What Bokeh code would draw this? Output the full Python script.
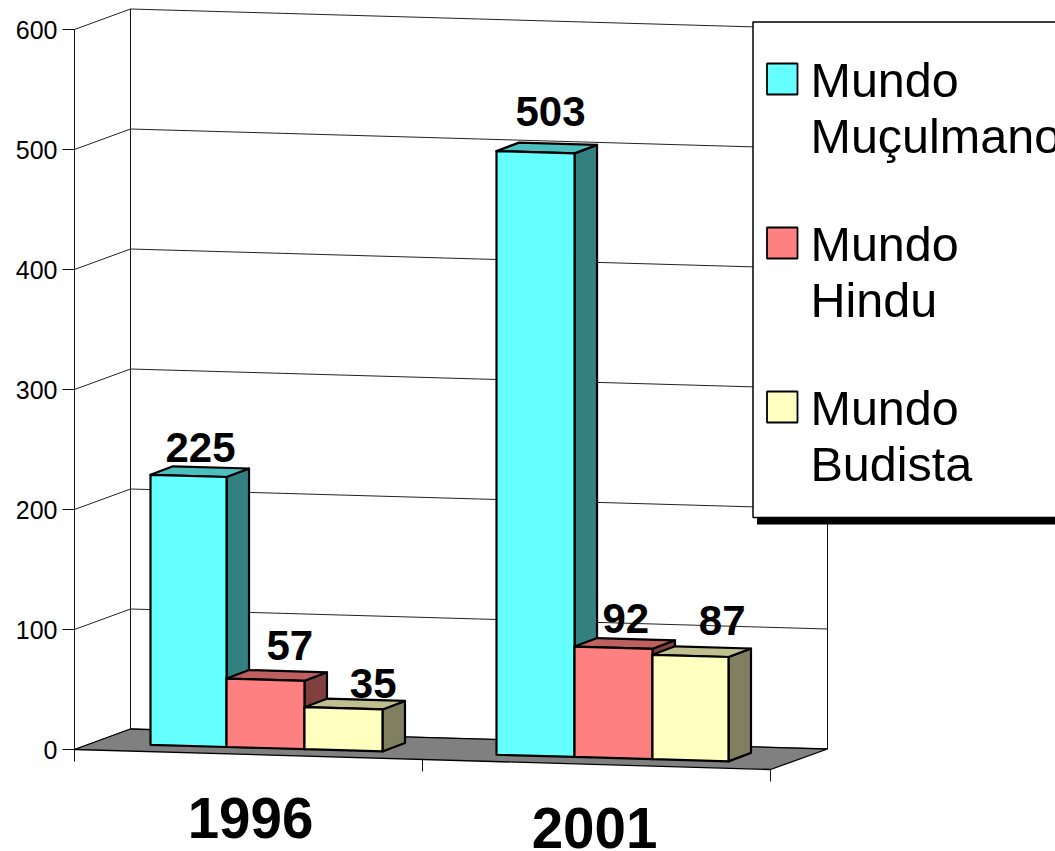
from bokeh.plotting import figure
from bokeh.models import Range1d, FixedTicker
from bokeh.core.properties import value
from bokeh.embed import file_html
from bokeh.resources import INLINE

# ---- data ----
categories = ["1996", "2001"]
series_names = ["Mundo\nMuçulmano", "Mundo\nHindu", "Mundo\nBudista"]
muculmano = [225, 503]
hindu = [57, 92]
budista = [35, 87]
y_ticks = [0, 100, 200, 300, 400, 500, 600]

# ---- styles ----
front_cols = ["#66FFFF", "#FF8080", "#FFFFC0"]
top_cols = ["#4DBFBF", "#BF6060", "#BFBF90"]
side_cols = ["#338080", "#804040", "#808060"]
FONT = value("Liberation Sans")
BASE_FIX = 0.36       # text sits this many em lower than asked in the svg backend

# ---- oblique 3D layout (screen pixels) ----
UNIT = 1.2            # px per value unit
FLOOR_Y = 749.0       # screen y of value 0 at the front-left corner
AX_X = 74.0
WALL_W = (696.0, 20.0)
WALL_D = (56.0, -20.5)
BAR_X0, BAR_Y0, CAT_PITCH, BAR_W = 150.0, 744.3, 346.0, 77.33
EDGE_NUDGE = [[0, -1.3, -0.7, 0], [0, 0.7, 1.3, 0]]
SLOPE = 0.0287
DEPTH = (22.5, -8.5)


def vy(py, v=0.0):
    """screen y plus a value height, expressed on the value scale"""
    return (FLOOR_Y - py) / UNIT + v


p = figure(width=1055, height=851, output_backend="svg", toolbar_location=None,
           x_range=Range1d(0, 1055), y_range=Range1d(vy(851), vy(0)),
           min_border=0, outline_line_color=None, background_fill_color="white")
p.grid.visible = False
p.xaxis.visible = False
ya = p.yaxis[0]
ya.fixed_location = AX_X
ya.bounds = (0, 600)
ya.ticker = FixedTicker(ticks=y_ticks)
ya.major_tick_out = 12
ya.major_tick_in = 0
ya.minor_tick_line_color = None
ya.major_tick_line_color = "#111111"
ya.axis_line_color = "#111111"
ya.major_label_standoff = 5
ya.major_label_text_font = "Liberation Sans"
ya.major_label_text_font_size = "25px"
ya.major_label_text_color = "black"

# walls
bx, by = AX_X + WALL_D[0], FLOOR_Y + WALL_D[1]
rx, ry = bx + WALL_W[0] + 1, by + WALL_W[1]
xs0, ys0, xs1, ys1 = [], [], [], []
for t in y_ticks:
    xs0 += [AX_X, bx]
    ys0 += [vy(FLOOR_Y, t), vy(by, t)]
    xs1 += [bx, rx]
    ys1 += [vy(by, t), vy(ry, t)]
p.segment(xs0, ys0, xs1, ys1, line_color="#222222", line_width=1)
top = max(y_ticks)
p.segment([bx, rx], [vy(by), vy(ry)], [bx, rx], [vy(by, top), vy(ry, top)],
          line_color="#111111", line_width=1)

# floor
fx = [AX_X, bx, rx, AX_X + WALL_W[0]]
fy = [FLOOR_Y, by, ry, FLOOR_Y + WALL_W[1]]
p.patch(fx, [vy(y) for y in fy], fill_color="#808080", line_color="black", line_width=1.3)

# category ticks
tx = [AX_X + k * WALL_W[0] / 2 for k in range(3)]
tyy = [FLOOR_Y + k * WALL_W[1] / 2 for k in range(3)]
p.segment(tx, [vy(y) for y in tyy], tx, [vy(y + 12) for y in tyy],
          line_color="#111111", line_width=1)

# bars
all_series = [muculmano, hindu, budista]
label_offsets = [  # (dx from bar left, baseline above top of bar's front-left)
    [(50, 12), (62, 18), (68, 9)],
    [(54, 25), (52, 13), (71, 19)],
]
for c in range(len(categories)):
    for s, vals in enumerate(all_series):
        v = vals[c]
        x0 = BAR_X0 + c * CAT_PITCH + s * BAR_W + EDGE_NUDGE[c][s]
        x1 = BAR_X0 + c * CAT_PITCH + (s + 1) * BAR_W + EDGE_NUDGE[c][s + 1]
        y0 = BAR_Y0 + c * 0 + SLOPE * (x0 - BAR_X0)
        y1 = BAR_Y0 + SLOPE * (x1 - BAR_X0)
        dx, dy = DEPTH
        # side
        p.patch([x1, x1 + dx, x1 + dx, x1],
                [vy(y1), vy(y1 + dy), vy(y1 + dy, v), vy(y1, v)],
                fill_color=side_cols[s], line_color="black", line_width=2.2, line_join="round")
        # top
        p.patch([x0, x1, x1 + dx, x0 + dx],
                [vy(y0, v), vy(y1, v), vy(y1 + dy, v), vy(y0 + dy, v)],
                fill_color=top_cols[s], line_color="black", line_width=2.2, line_join="round")
        # front
        p.patch([x0, x1, x1, x0],
                [vy(y0), vy(y1), vy(y1, v), vy(y0, v)],
                fill_color=front_cols[s], line_color="black", line_width=2.2, line_join="round")

for c in range(len(categories)):
    for s, vals in enumerate(all_series):
        v = vals[c]
        x0 = BAR_X0 + c * CAT_PITCH + s * BAR_W
        y0 = BAR_Y0 + SLOPE * (x0 - BAR_X0)
        ox, oy = label_offsets[c][s]
        p.text([x0 + ox], [vy(y0 - oy - BASE_FIX * 42, v)], text=[str(v)], text_font=FONT,
               text_font_style="bold", text_font_size="42px", text_color="black",
               text_align="center", text_baseline="alphabetic")

# category labels
cat_pos = [(250, 838), (594, 848)]
for lab, (cx, cy) in zip(categories, cat_pos):
    p.text([cx], [vy(cy - BASE_FIX * 56.5)], text=[lab], text_font=FONT, text_font_style="bold",
           text_font_size="56.5px", text_color="black", text_align="center",
           text_baseline="alphabetic")

# legend (runs off the right edge of the page, as in the source)
LX, LT, LB, LR = 752.5, 21.5, 517.0, 1100.0
p.quad(left=[LX + 4], right=[LR], top=[vy(LB)], bottom=[vy(LB + 7)],
       fill_color="black", line_color="black", line_width=0)
p.quad(left=[LX], right=[LR], top=[vy(LT)], bottom=[vy(LB)],
       fill_color="white", line_color="black", line_width=1.5)
swatch_tops = [63, 227, 391]
for s, name in enumerate(series_names):
    st = swatch_tops[s]
    p.quad(left=[766.5], right=[797], top=[vy(st)], bottom=[vy(st + 31)],
           fill_color=front_cols[s], line_color="black", line_width=1.8)
    for i, line in enumerate(name.split("\n")):
        p.text([810], [vy(st + 34 + i * 56 - BASE_FIX * 48.5)], text=[line], text_font=FONT,
               text_font_size="48.5px", text_color="black",
               text_align="left", text_baseline="alphabetic")

open("out.html", "w").write(file_html(p, INLINE))
